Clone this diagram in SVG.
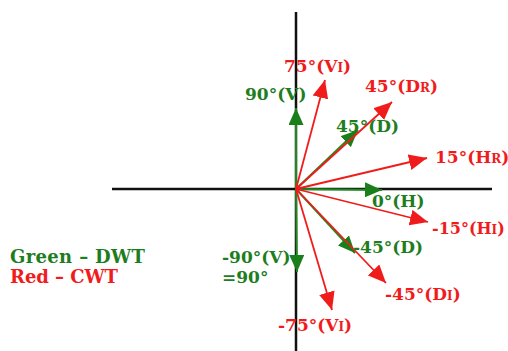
<svg xmlns="http://www.w3.org/2000/svg" width="508" height="351" viewBox="0 0 508 351">
<style>
text{font-family:"DejaVu Serif","Liberation Serif",serif;font-weight:bold;font-size:17px}
.g{fill:#1e7d1e}
.r{fill:#f01c1c}
.s{font-size:12px}
.lg{stroke:#1e8a1e;stroke-width:2;fill:none;marker-end:url(#ag)}
.lr{stroke:#f01c1c;stroke-width:1.8;fill:none;marker-end:url(#ar)}
.ax{stroke:#111;stroke-width:2.5}
.leg{font-size:18px}
</style>
<defs>
<marker id="ag" markerUnits="userSpaceOnUse" markerWidth="17" markerHeight="15" refX="17" refY="7.5" orient="auto"><path d="M0,0 L17,7.5 L0,15 z" fill="#1a7f1a"/></marker>
<marker id="ar" markerUnits="userSpaceOnUse" markerWidth="18" markerHeight="16" refX="18" refY="8" orient="auto"><path d="M0,0 L18,8 L0,16 z" fill="#f01c1c"/></marker>
</defs>
<rect width="508" height="351" fill="#fff"/>
<g id="axes">
<line class="ax" x1="296" y1="12" x2="296" y2="351"/>
<line class="ax" x1="112" y1="189" x2="492" y2="189"/>
</g>
<g id="connectors">
<line class="lg" x1="296" y1="189" x2="296" y2="108"/>
<line class="lg" x1="296" y1="189" x2="297" y2="272"/>
<line class="lg" x1="296" y1="189" x2="382" y2="190"/>
<line class="lg" x1="296" y1="189" x2="358" y2="130"/>
<line class="lg" x1="296" y1="189" x2="355" y2="253"/>
<line class="lr" x1="296" y1="189" x2="325" y2="80"/>
<line class="lr" x1="296" y1="189" x2="392" y2="102"/>
<line class="lr" x1="296" y1="189" x2="427" y2="158"/>
<line class="lr" x1="296" y1="189" x2="428" y2="222"/>
<line class="lr" x1="296" y1="189" x2="386" y2="283"/>
<line class="lr" x1="296" y1="189" x2="332" y2="310"/>
</g>
<g id="label-75"><text class="r" x="284" y="72">75°(V<tspan class="s">I</tspan>)</text></g>
<g id="label-90"><text class="g" x="245" y="100">90°(V)</text></g>
<g id="label-45r"><text class="r" x="365" y="92">45°(D<tspan class="s">R</tspan>)</text></g>
<g id="label-45g"><text class="g" x="336" y="132">45°(D)</text></g>
<g id="label-15r"><text class="r" x="435" y="163">15°(H<tspan class="s">R</tspan>)</text></g>
<g id="label-0"><text class="g" x="372" y="207">0°(H)</text></g>
<g id="label-m15"><text class="r" x="432" y="234" style="font-size:16px">-15°(H<tspan class="s">I</tspan>)</text></g>
<g id="label-m45g"><text class="g" x="353" y="253">-45°(D)</text></g>
<g id="label-m45r"><text class="r" x="385" y="300">-45°(D<tspan class="s">I</tspan>)</text></g>
<g id="label-m75"><text class="r" x="278" y="331">-75°(V<tspan class="s">I</tspan>)</text></g>
<g id="label-m90"><text class="g" x="222" y="263">-90°(V)</text><text class="g" x="222" y="283">=90°</text></g>
<g id="legend">
<text class="g leg" x="10" y="263" textLength="135" lengthAdjust="spacing">Green – DWT</text>
<text class="r leg" x="10" y="283" textLength="108" lengthAdjust="spacing">Red – CWT</text>
</g>
</svg>
